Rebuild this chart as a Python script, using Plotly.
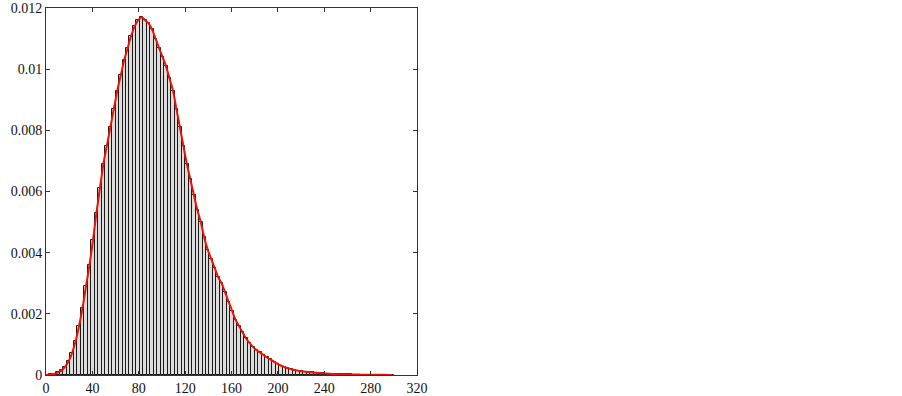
import plotly.graph_objects as go

bin_width = 3
bin_centers = [1.5 + bin_width * i for i in range(100)]
density = [
    0.00001, 0.00002, 0.00004, 0.00009, 0.00015, 0.00027, 0.00045, 0.00072, 0.0011, 0.0016,
    0.0022, 0.0029, 0.0036, 0.0044, 0.0053, 0.0061, 0.0069, 0.0075, 0.0081, 0.0087,
    0.0093, 0.0098, 0.0103, 0.0107, 0.0111, 0.0114, 0.0116, 0.0117, 0.0116, 0.0115,
    0.0113, 0.0110, 0.0107, 0.0104, 0.0101, 0.0097, 0.0093, 0.0087, 0.0081, 0.0075,
    0.0069, 0.0064, 0.0059, 0.0054, 0.0050, 0.0045, 0.0041, 0.0038, 0.0035, 0.0032,
    0.0030, 0.0027, 0.0024, 0.0021, 0.0018, 0.0016, 0.0014, 0.0012, 0.00105, 0.00092,
    0.00082, 0.00074, 0.00066, 0.00058, 0.00051, 0.00044, 0.00037, 0.00031, 0.00026, 0.00022,
    0.00019, 0.00016, 0.00014, 0.00012, 0.00011, 0.000095, 0.000085, 0.000075, 0.000065, 0.000055,
    0.000048, 0.000042, 0.000036, 0.000031, 0.000027, 0.000024, 0.000021, 0.000018, 0.000016, 0.000014,
    0.000012, 0.000011, 0.00001, 0.000009, 0.000008, 0.000007, 0.000006, 0.000005, 0.000004, 0.000003,
]
curve_x = [0] + bin_centers
curve_y = [0] + density

x_ticks = [0, 40, 80, 120, 160, 200, 240, 280, 320]
y_ticks = [0, 0.002, 0.004, 0.006, 0.008, 0.01, 0.012]
y_tick_labels = ["0", "0.002", "0.004", "0.006", "0.008", "0.01", "0.012"]

fig = go.Figure()
fig.add_trace(go.Bar(
    x=bin_centers, y=density, width=bin_width,
    marker=dict(color="#dcdcdc", line=dict(color="#1a1a1a", width=1)),
    showlegend=False,
))
fig.add_trace(go.Scatter(
    x=curve_x, y=curve_y, mode="lines",
    line=dict(color="#e8140a", width=2, shape="spline"),
    showlegend=False,
))

axis_common = dict(
    showgrid=False, zeroline=False, showline=True, linecolor="#333333", linewidth=1,
    mirror="ticks", ticks="inside", ticklen=4, tickcolor="#333333", automargin=False,
    tickfont=dict(family="Liberation Serif", size=14, color="#111111"),
)
fig.update_layout(
    width=902, height=396,
    margin=dict(l=46, r=485, t=8, b=21),
    paper_bgcolor="white", plot_bgcolor="white",
    bargap=0,
    xaxis=dict(range=[0, 320], tickvals=x_ticks, **axis_common),
    yaxis=dict(range=[0, 0.012], tickvals=y_ticks, ticktext=y_tick_labels, **axis_common),
)
fig.write_html(
    "out.html",
    config={"displayModeBar": False},
    post_script="document.body.style.margin='0';document.body.style.overflow='hidden';",
)
